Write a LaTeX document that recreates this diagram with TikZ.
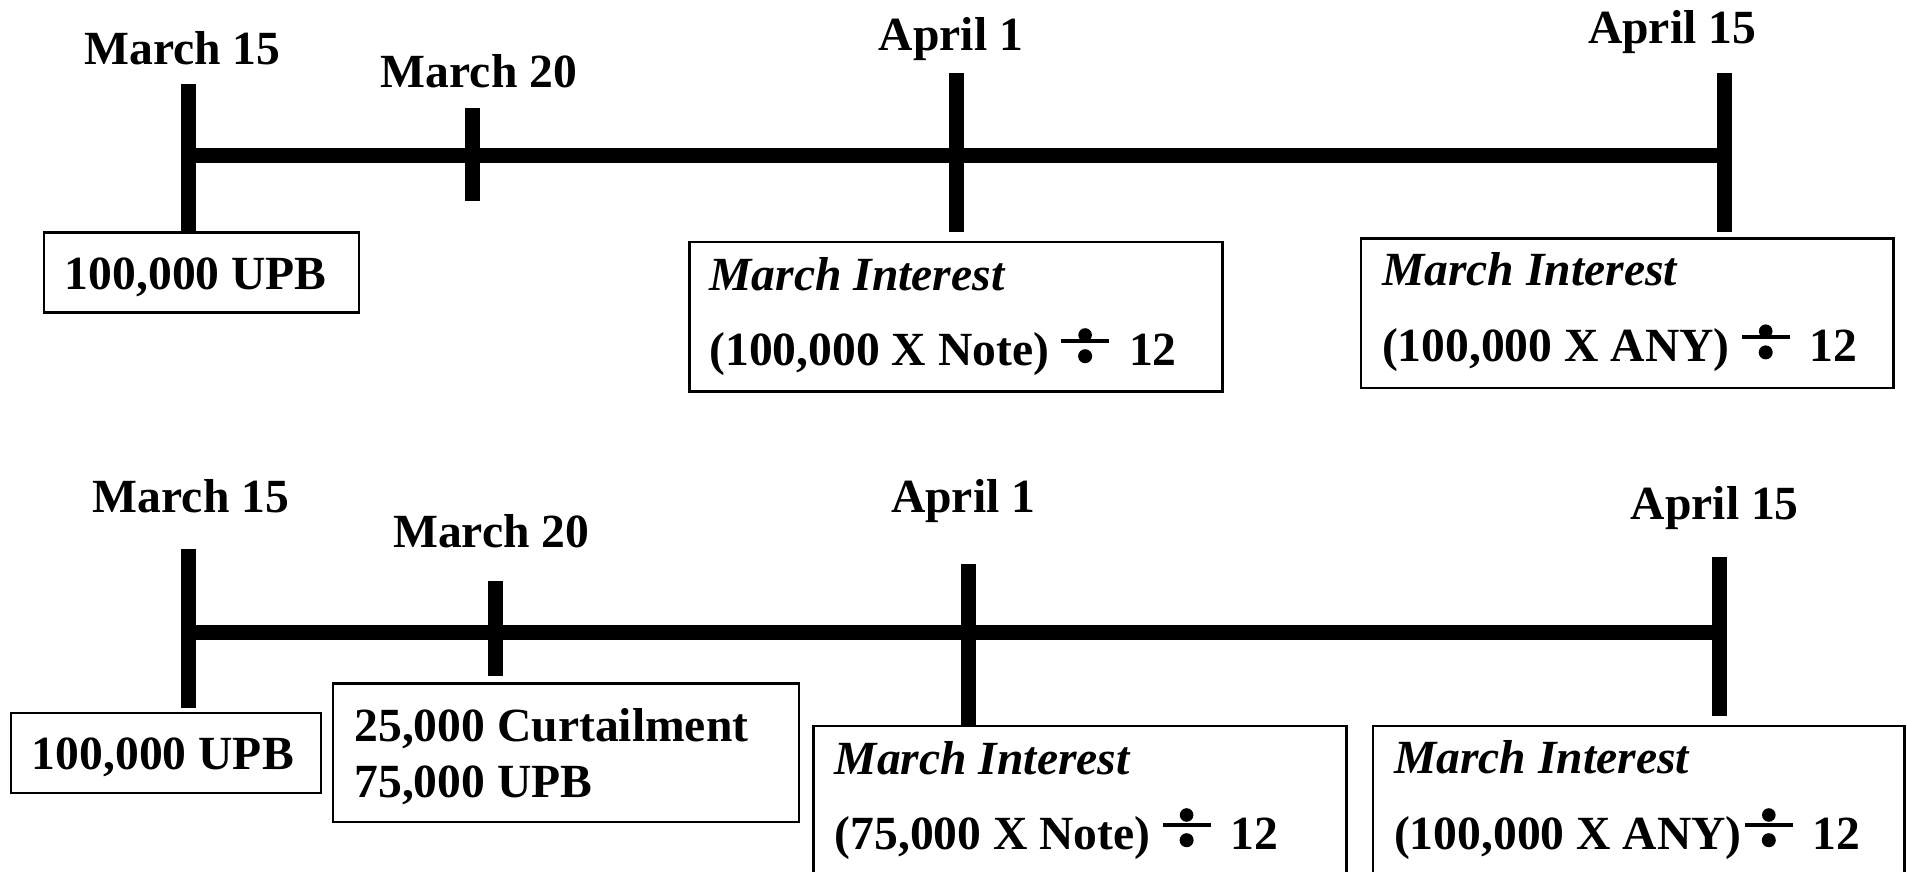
\documentclass[tikz,border=0pt]{standalone}
\usepackage{fontspec}
\setmainfont{Liberation Serif}
\newcommand{\dvs}[1]{\tikz[baseline=0pt,x=1pt,y=1pt]{\fill (0,11) rectangle (24,13); \fill (12,4.4) circle (3.5); \fill (12,#1) circle (3.4);}}
\begin{document}
\begin{tikzpicture}[x=0.5pt,y=-0.5pt,
  tick/.style={line width=7.5pt},
  barline/.style={line width=7.5pt},
  boxn/.style={draw,line width=1.2pt,inner sep=0pt,outer sep=0pt},
  lbl/.style={inner sep=0pt,anchor=base,font=\fontsize{23.8}{28}\selectfont\bfseries},
  txt/.style={inner sep=0pt,anchor=base west,font=\fontsize{23.8}{28}\selectfont\bfseries},
  itxt/.style={txt,font=\fontsize{23.8}{28}\selectfont\bfseries\itshape}]
\useasboundingbox (0,0) rectangle (1907,872);
% ---------- top timeline ----------
\coordinate (t1a) at (188.5,84);   \coordinate (t1b) at (188.5,232);
\coordinate (t2a) at (472,108);    \coordinate (t2b) at (472,201);
\coordinate (t3a) at (956,73);     \coordinate (t3b) at (956,232);
\coordinate (t4a) at (1724.6,73);  \coordinate (t4b) at (1724.6,232);
\coordinate (tl) at (188.5,155.7); \coordinate (tr) at (1724.6,155.7);
\draw[barline] (tl) -- (tr);
\draw[tick] (t1a) -- (t1b);
\draw[tick] (t2a) -- (t2b);
\draw[tick] (t3a) -- (t3b);
\draw[tick] (t4a) -- (t4b);
\node[lbl] (tm15) at (182.4,64.5) {March 15};
\node[lbl] (tm20) at (479,87.6) {March 20};
\node[lbl] (ta1) at (951,51) {April 1};
\node[lbl] (ta15) at (1672,43.8) {April 15};
\draw[boxn] (43.8,232.3) rectangle (358.8,312.6);
\node[txt] (tb1) at (64.5,289.5) {100,000 UPB};
\draw[boxn] (689.6,242) rectangle (1222.3,391.6);
\node[itxt] (tb2a) at (709,290.7) {March Interest};
\node[txt] (tb2b) at (709,365) {(100,000 X Note)\hspace{6pt}\dvs{15}\hspace{10pt}12};
\draw[boxn] (1361,238.4) rectangle (1893.6,388);
\node[itxt] (tb3a) at (1381.6,285.8) {March Interest};
\node[txt] (tb3b) at (1381.6,361.2) {(100,000 X ANY)\hspace{6pt}\dvs{15}\hspace{10pt}12};
% ---------- bottom timeline ----------
\coordinate (b1a) at (188.5,548.5); \coordinate (b1b) at (188.5,707.8);
\coordinate (b2a) at (495,581.3);   \coordinate (b2b) at (495,676.2);
\coordinate (b3a) at (968,564.3);   \coordinate (b3b) at (968,726);
\coordinate (b4a) at (1719.7,557);  \coordinate (b4b) at (1719.7,716.3);
\coordinate (bl) at (188.5,632.4);  \coordinate (br) at (1719.7,632.4);
\draw[barline] (bl) -- (br);
\draw[tick] (b1a) -- (b1b);
\draw[tick] (b2a) -- (b2b);
\draw[tick] (b3a) -- (b3b);
\draw[tick] (b4a) -- (b4b);
\node[lbl] (bm15) at (191,512) {March 15};
\node[lbl] (bm20) at (491.3,547) {March 20};
\node[lbl] (ba1) at (963.2,512) {April 1};
\node[lbl] (ba15) at (1714.8,519) {April 15};
\draw[boxn] (11,712.7) rectangle (321,793);
\node[txt] (bb1) at (31.6,769.8) {100,000 UPB};
\draw[boxn] (333.2,683.5) rectangle (799,822.2);
\node[txt] (bb2a) at (354,741.9) {25,000 Curtailment};
\node[txt] (bb2b) at (354,797.8) {75,000 UPB};
\draw[boxn] (813.6,726) rectangle (1346.3,885);
\node[itxt] (bb3a) at (834.3,774.7) {March Interest};
\node[txt] (bb3b) at (834.3,849) {(75,000 X Note)\hspace{6pt}\dvs{17}\hspace{10pt}12};
\draw[boxn] (1373,726) rectangle (1904.6,885);
\node[itxt] (bb4a) at (1393.7,773.5) {March Interest};
\node[txt] (bb4b) at (1393.7,849) {(100,000 X ANY)\hspace{1.5pt}\dvs{17}\hspace{10pt}12};
\end{tikzpicture}
\end{document}
